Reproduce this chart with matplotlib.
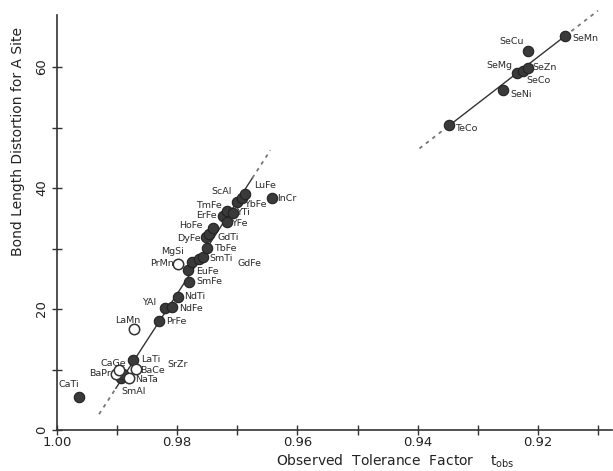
import numpy as np
from matplotlib import pyplot as plt

# perovskite family (lower left group)
names_a = ["CaTi", "BaPr", "CaGe", "SmAl", "SrZr", "LaTi", "BaCe", "NaTa",
           "LaMn", "PrFe", "YAl", "NdFe", "NdTi", "SmFe", "EuFe", "PrMn",
           "MgSi", "SmTi", "GdFe", "TbFe", "DyFe", "GdTi", "HoFe", "ErFe",
           "TmFe", "YTi", "YFe", "YbFe", "ScAl", "LuFe", "InCr"]
t_obs_a = [0.9963, 0.9902, 0.9897, 0.9893, 0.9890, 0.9873, 0.9868, 0.9880,
           0.9872, 0.9830, 0.9820, 0.9808, 0.9798, 0.9780, 0.9782, 0.9798,
           0.9775, 0.9763, 0.9757, 0.9750, 0.9752, 0.9747, 0.9740, 0.9723,
           0.9718, 0.9708, 0.9717, 0.9700, 0.9693, 0.9688, 0.9642]
dist_a = [5.5, 9.3, 9.9, 8.6, 9.3, 11.6, 10.1, 8.6,
          16.7, 18.0, 20.2, 20.3, 22.0, 24.5, 26.4, 27.4,
          27.8, 28.3, 28.6, 30.1, 31.9, 32.4, 33.4, 35.4,
          36.2, 35.9, 34.4, 37.7, 38.4, 39.0, 38.4]
open_a = ["BaPr", "CaGe", "BaCe", "NaTa", "LaMn", "PrMn"]

# second family (upper right group)
names_b = ["TeCo", "SeNi", "SeMg", "SeCo", "SeZn", "SeCu", "SeMn"]
t_obs_b = [0.9347, 0.9258, 0.9235, 0.9225, 0.9217, 0.9217, 0.9155]
dist_b = [50.4, 56.2, 59.0, 59.3, 59.8, 62.6, 65.1]

# fitted lines: intercept, slope, solid range, dashed range
fit_a = (1522.9, -1531.0)
solid_a = (0.9902, 0.9675)
dash_a = (0.9930, 0.9645)
fit_b = (767.3, -767.0)
solid_b = (0.9347, 0.9155)
dash_b = (0.9397, 0.9100)

# label offsets in pixels (dx, dy, ha)
offs = {
    "CaTi": (-10, 12, "center"), "BaPr": (-5, 0, "right"), "CaGe": (-6, 7, "center"),
    "SmAl": (0, -13, "left"), "SrZr": (44, 9, "left"), "LaTi": (8, 0, "left"),
    "BaCe": (4, -2, "left"), "NaTa": (6, -1, "left"), "LaMn": (-6, 9, "center"),
    "PrFe": (7, 0, "left"), "YAl": (-9, 5, "right"), "NdFe": (7, -1, "left"),
    "NdTi": (6, 0, "left"), "SmFe": (7, 0, "left"), "EuFe": (8, -1, "left"),
    "PrMn": (-5, 1, "right"), "MgSi": (-20, 10, "center"), "SmTi": (10, 0, "left"),
    "GdFe": (34, -6, "left"), "TbFe": (7, -1, "left"), "GdTi": (8, -3, "left"),
    "DyFe": (-5, -1, "right"), "HoFe": (-11, 2, "right"), "ErFe": (-7, 0, "right"),
    "TmFe": (-5, 6, "right"), "YTi": (4, 0, "left"), "YFe": (4, -2, "left"),
    "YbFe": (7, -3, "left"), "ScAl": (-10, 6, "right"), "LuFe": (10, 9, "left"),
    "InCr": (5, -1, "left"),
    "TeCo": (6, -3, "left"), "SeNi": (7, -4, "left"), "SeMg": (-4, 8, "right"),
    "SeCo": (4, -9, "left"), "SeZn": (5, 1, "left"), "SeCu": (-4, 10, "right"),
    "SeMn": (7, -2, "left"),
}

ink = "#333333"
fig = plt.figure(figsize=(6.13, 4.71), dpi=100)
ax = fig.add_axes([0.093, 0.087, 0.905, 0.881])

for fit, solid, dash in [(fit_a, solid_a, dash_a), (fit_b, solid_b, dash_b)]:
    a, b = fit
    xs = np.array(solid)
    ax.plot(xs, a + b * xs, color=ink, lw=1.0, zorder=1)
    for x0, x1 in [(dash[0], solid[0]), (solid[1], dash[1])]:
        xd = np.array([x0, x1])
        ax.plot(xd, a + b * xd, color="#777777", lw=1.3, ls=(0, (2, 2.5)),
                zorder=1, clip_on=False)

for nm, x, y in zip(names_a + names_b, t_obs_a + t_obs_b, dist_a + dist_b):
    if nm in open_a:
        ax.plot(x, y, "o", ms=7.5, mfc="white", mec=ink, mew=1.1, zorder=3)
    else:
        ax.plot(x, y, "o", ms=7.5, mfc="#3a3a3a", mec="#222222", mew=0.8, zorder=2)
    dx, dy, ha = offs[nm]
    ax.annotate(nm, xy=(x, y), xytext=(dx, dy), textcoords="offset pixels",
                ha=ha, va="center", fontsize=6.8, color="#2a2a2a")

ax.set_xlim(1.00, 0.9077)
ax.set_ylim(0, 68.6)
ax.set_xticks([1.00, 0.98, 0.96, 0.94, 0.92])
ax.set_xticks([0.99, 0.97, 0.95, 0.93, 0.91], minor=True)
ax.set_xticklabels(["1.00", "0.98", "0.96", "0.94", "0.92"])
ax.set_yticks([0, 20, 40, 60])
ax.set_yticks([10, 30, 50], minor=True)
for lab in ax.get_yticklabels():
    lab.set_rotation(90)
    lab.set_va("center")
ax.tick_params(which="both", direction="inout", length=7, width=1.0,
               color=ink, labelcolor="#222222", labelsize=9.5)
ax.tick_params(axis="x", pad=1)
ax.tick_params(axis="y", pad=3)
for s in ["top", "right"]:
    ax.spines[s].set_visible(False)
for s in ["left", "bottom"]:
    ax.spines[s].set_color(ink)
    ax.spines[s].set_linewidth(1.2)

ax.text(0.61, -0.055, "Observed  Tolerance  Factor    t$_{\\mathregular{obs}}$",
        transform=ax.transAxes, ha="center", va="top", fontsize=10, color="#222222")
fig.text(0.03, 0.70, "Bond Length Distortion for A Site", rotation=90,
         ha="center", va="center", fontsize=10, color="#222222")

fig.savefig("out.png", dpi=100)
